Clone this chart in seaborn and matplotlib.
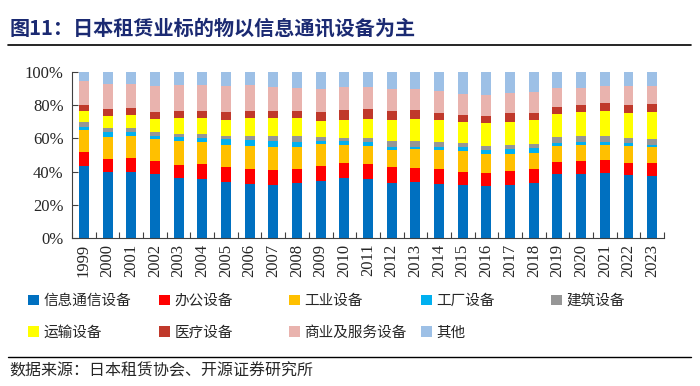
import matplotlib
matplotlib.use("Agg")
import matplotlib.pyplot as plt
from matplotlib.patches import Patch
from matplotlib.ticker import PercentFormatter
import numpy as np
import pandas as pd
import seaborn as sns

years = [str(y) for y in range(1999, 2024)]

# 各类设备占比（%，自下而上）
ict = [43.6, 39.6, 39.6, 38.6, 36.0, 35.6, 33.8, 32.6, 31.8, 33.0, 34.4, 36.4, 35.6,
       33.4, 33.6, 32.4, 31.8, 31.4, 32.0, 33.2, 38.4, 38.4, 39.2, 37.8, 37.6]
office = [8.0, 8.0, 8.6, 7.8, 8.0, 8.8, 9.2, 9.2, 9.4, 8.6, 9.0, 9.0, 9.0,
          9.2, 8.8, 9.0, 8.2, 8.0, 8.6, 8.2, 7.4, 8.2, 7.8, 7.6, 7.4]
industrial = [13.4, 13.0, 13.2, 13.2, 14.4, 13.4, 13.0, 13.8, 13.8, 13.0, 13.0, 10.6, 10.8,
              10.4, 11.0, 11.6, 12.6, 11.2, 9.8, 9.8, 9.8, 9.6, 9.0, 10.0, 9.6]
factory = [2.0, 3.0, 2.6, 2.0, 2.2, 2.6, 3.4, 3.4, 3.4, 3.4, 2.0, 2.2, 2.2,
           2.0, 1.4, 1.6, 2.0, 2.4, 3.0, 2.8, 1.8, 1.8, 2.0, 1.6, 1.2]
construction = [3.0, 2.4, 2.0, 2.2, 2.0, 2.4, 2.0, 2.6, 2.8, 3.2, 2.2, 2.0, 2.8,
                3.4, 3.6, 3.0, 2.8, 2.4, 2.8, 2.8, 3.2, 3.4, 3.2, 3.4, 3.6]
transport = [6.4, 7.6, 8.0, 7.6, 9.8, 9.6, 9.4, 10.4, 11.0, 10.8, 10.0, 11.0, 11.2,
             12.6, 13.0, 13.2, 12.2, 13.6, 13.8, 14.2, 13.8, 14.2, 15.2, 14.6, 16.2]
medical = [4.0, 4.4, 4.4, 4.6, 4.4, 4.4, 4.8, 4.8, 4.6, 4.8, 5.2, 5.8, 6.0,
           5.6, 5.6, 4.6, 4.6, 4.6, 5.0, 4.4, 4.4, 4.6, 4.8, 5.0, 5.2]
commercial = [14.0, 15.0, 14.6, 15.8, 15.2, 15.6, 15.8, 15.6, 14.2, 13.8, 14.0, 13.8, 13.2,
              13.4, 12.6, 13.2, 12.4, 12.4, 12.6, 12.4, 11.4, 10.4, 10.6, 11.6, 11.0]
other = [5.6, 7.0, 7.0, 8.2, 8.0, 7.6, 8.6, 7.6, 9.0, 9.4, 10.2, 9.2, 9.2,
         10.0, 10.4, 11.4, 13.4, 14.0, 12.4, 12.2, 9.8, 9.4, 8.2, 8.4, 8.2]

series_names = ["信息通信设备", "办公设备", "工业设备", "工厂设备", "建筑设备",
                "运输设备", "医疗设备", "商业及服务设备", "其他"]
series_vals = [ict, office, industrial, factory, construction,
               transport, medical, commercial, other]
colors = ["#0070C0", "#FF0000", "#FFC000", "#00B0F0", "#969696",
          "#FFFF00", "#C0392B", "#E9B3AE", "#9DC0E6"]

sns.set_style("white")
plt.rcParams["font.family"] = ["Liberation Serif", "Noto Sans CJK SC", "DejaVu Sans"]
CJK = ["Noto Sans CJK SC", "DejaVu Sans"]

df = pd.DataFrame({n: v for n, v in zip(series_names, series_vals)}, index=years)
share = df.div(df.sum(axis=1), axis=0)
cum = share.cumsum(axis=1)

fig = plt.figure(figsize=(7, 3.86), dpi=100)
ax = fig.add_axes([0.1029, 0.3834, 0.8457, 0.4301])

# 从上到下叠画累计值，形成堆积柱
for name, c in reversed(list(zip(series_names, colors))):
    sns.barplot(x=years, y=cum[name].values, color=c, saturation=1,
                width=0.42, ax=ax, linewidth=0)

ax.set_ylim(0, 1)
ax.set_xlim(-0.5, len(years) - 0.5)
ax.yaxis.set_major_formatter(PercentFormatter(1.0, decimals=0))
ax.set_yticks(np.arange(0, 1.01, 0.2))
ax.set_xticks(np.arange(len(years)))
ax.set_xticklabels(years, rotation=90)
ax.tick_params(axis="y", direction="in", length=4, width=0.8, color="#404040",
               labelsize=12, left=True, pad=6)
ax.tick_params(axis="x", which="major", length=0, labelsize=12, pad=4)
ax.set_xticks(np.arange(-0.5, len(years)), minor=True)
ax.tick_params(axis="x", which="minor", direction="in", length=4, width=0.8,
               color="#404040", bottom=True)
for s in ["top", "right"]:
    ax.spines[s].set_visible(False)
for s in ["left", "bottom"]:
    ax.spines[s].set_color("#404040")
    ax.spines[s].set_linewidth(0.8)
ax.set_xlabel("")
ax.set_ylabel("")

# 标题
fig.text(0.014, 0.927, "图11：日本租赁业标的物以信息通讯设备为主", family=CJK,
         fontsize=14.5, fontweight="bold", color="#1B2A72", va="center", ha="left")
fig.add_artist(plt.Line2D([0.011, 0.987], [0.883, 0.883], color="black", lw=1.2,
                          transform=fig.transFigure))

# 图例：每列一个小图例，列起点固定
col_x = [32, 163, 293, 425, 555]
columns = [[0, 5], [1, 6], [2, 7], [3, 8], [4]]
for x0, idx in zip(col_x, columns):
    hs = [Patch(facecolor=colors[i], edgecolor="none") for i in idx]
    fig.legend(hs, [series_names[i] for i in idx], loc="upper left",
               bbox_to_anchor=((x0 - 4) / 700, 1 - 294 / 386), frameon=False,
               prop={"family": CJK, "size": 10.5}, handlelength=0.75,
               handleheight=0.75, handletextpad=0.3, borderpad=0,
               borderaxespad=0, labelspacing=1.2)

# 数据来源
fig.add_artist(plt.Line2D([0.011, 0.987], [0.075, 0.075], color="black", lw=1.0,
                          transform=fig.transFigure))
fig.text(0.014, 0.04, "数据来源：日本租赁协会、开源证券研究所", family=CJK,
         fontsize=11.5, va="center", ha="left")

fig.savefig("out.png", dpi=100)
